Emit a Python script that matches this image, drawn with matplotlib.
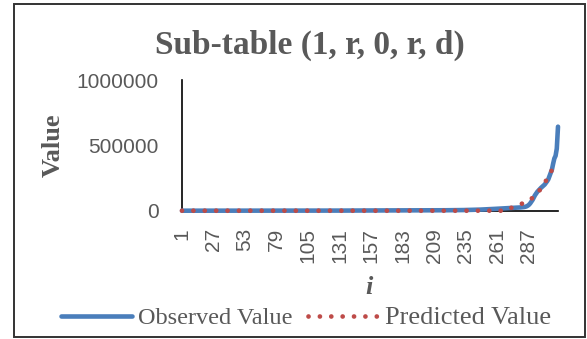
import numpy as np
import matplotlib.pyplot as plt
from matplotlib.patches import Rectangle

# observed values, i = 1..311 (rows of 20)
observed = [
    0, 0, 0, 0, 0, 0, 0, 0, 0, 0, 0, 0, 0, 0, 0, 0, 0, 0, 0, 0,
    0, 0, 0, 0, 0, 0, 0, 0, 0, 0, 0, 0, 0, 0, 0, 0, 0, 0, 0, 0,
    0, 0, 0, 0, 0, 0, 0, 0, 0, 0, 0, 0, 0, 0, 0, 0, 0, 0, 0, 0,
    50, 50, 50, 50, 50, 50, 50, 50, 50, 50, 100, 100, 100, 100, 100, 100, 100, 100, 100, 100,
    150, 150, 150, 150, 150, 200, 200, 200, 200, 200, 250, 250, 250, 250, 250, 300, 300, 300, 300, 300,
    350, 350, 350, 400, 400, 400, 450, 450, 450, 500, 500, 500, 550, 550, 550, 600, 600, 600, 650, 650,
    700, 700, 700, 750, 750, 750, 800, 800, 800, 850, 850, 850, 900, 900, 900, 950, 950, 950, 1000, 1000,
    1050, 1050, 1100, 1100, 1150, 1150, 1200, 1200, 1250, 1250, 1300, 1300, 1350, 1350, 1400, 1400, 1450, 1450, 1500, 1500,
    1550, 1600, 1650, 1700, 1750, 1800, 1850, 1900, 1950, 2000, 2050, 2100, 2150, 2200, 2250, 2300, 2350, 2400, 2450, 2500,
    2500, 2500, 2550, 2550, 2600, 2600, 2650, 2650, 2700, 2700, 2750, 2750, 2800, 2800, 2850, 2850, 2900, 2900, 2950, 2950,
    3000, 3000, 3050, 3050, 3100, 3100, 3150, 3150, 3200, 3200, 3250, 3250, 3300, 3300, 3350, 3350, 3400, 3400, 3450, 3450,
    3500, 3600, 3700, 3800, 3900, 4000, 4100, 4200, 4300, 4400, 4500, 4700, 4900, 5100, 5300, 5500, 5700, 5900, 6100, 6300,
    6500, 6800, 7100, 7400, 7700, 8000, 8400, 8800, 9200, 9600, 10000, 10500, 11000, 11500, 12000, 12500, 13000, 13500, 14000, 14500,
    15000, 15500, 16000, 16500, 17000, 17500, 18000, 18500, 19000, 19500, 20000, 20500, 21000, 21500, 22000, 22500, 23000, 23500, 24000, 25000,
    26000, 27000, 28000, 30000, 33000, 38000, 45000, 55000, 68000, 82000, 100000, 118000, 132000, 145000, 155000, 165000, 175000, 183000, 190000, 200000,
    212000, 225000, 240000, 265000, 290000, 315000, 360000, 400000, 420000, 475000, 643000,
]

# predicted values, i = 1..311 (rows of 20)
predicted = [
    0, 0, 0, 0, 0, 0, 0, 0, 0, 0, 0, 0, 0, 0, 0, 0, 0, 0, 0, 0,
    0, 0, 0, 0, 0, 0, 0, 0, 0, 0, 0, 0, 0, 0, 0, 0, 0, 0, 0, 0,
    0, 0, 0, 0, 0, 0, 0, 0, 0, 0, 0, 0, 0, 0, 0, 0, 0, 0, 0, 0,
    0, 0, 0, 0, 0, 0, 0, 0, 0, 0, 0, 0, 0, 0, 0, 0, 0, 0, 0, 0,
    0, 0, 0, 0, 0, 0, 0, 0, 0, 0, 0, 0, 0, 0, 0, 0, 0, 0, 0, 0,
    0, 0, 0, 0, 0, 0, 0, 0, 0, 0, 0, 0, 0, 0, 0, 0, 0, 0, 0, 0,
    0, 0, 0, 0, 0, 0, 0, 0, 0, 0, 0, 0, 0, 0, 0, 0, 0, 0, 0, 0,
    0, 0, 0, 0, 0, 0, 0, 0, 0, 0, 0, 0, 0, 0, 0, 0, 0, 0, 0, 0,
    0, 0, 0, 0, 0, 0, 0, 0, 0, 0, 0, 0, 0, 0, 0, 0, 0, 0, 0, 0,
    0, 0, 0, 0, 0, 0, 0, 0, 0, 0, 0, 0, 0, 0, 0, 0, 0, 0, 0, 0,
    0, 0, 0, 0, 0, 0, 0, 0, 0, 0, 0, 0, 0, 0, 0, 0, 0, 0, 0, 0,
    0, 0, 0, 0, 0, 0, 0, 0, 0, 0, 0, 0, 0, 0, 0, 0, 0, 0, 0, 0,
    0, 0, 0, 0, 0, 0, 0, 0, 0, 0, 0, 0, 0, 0, 0, 0, 0, 0, 0, 0,
    0, 0, 0, 0, 0, 0, 0, 0, 5000, 10000, 15000, 20000, 24000, 28000, 33000, 38000, 41000, 44000, 47000, 50000,
    53000, 56000, 59000, 63000, 68000, 74000, 80000, 86000, 92000, 98000, 104000, 110000, 122000, 134000, 146000, 158000, 165000, 182000, 198000, 212000,
    228000, 244000, 260000, 278000, 296000, 310000, 324000, 336000, 346000, 354000, 360000,
]

tick_labels = ["1", "27", "53", "79", "105", "131", "157", "183", "209", "235", "261", "287"]
y_ticks = [0, 500000, 1000000]

gray = "#595959"
blue = "#4A7EBB"
red = "#BE4B48"

fig = plt.figure(figsize=(5.87, 3.39), dpi=100)
ax = fig.add_axes([182 / 587, 1 - 210.7 / 339, (558 - 182) / 587, (210.7 - 80) / 339])

x = np.arange(1, len(observed) + 1)
ax.plot(x, observed, color=blue, lw=3.3, solid_capstyle="round", zorder=3, clip_on=False,
        label="Observed Value")
ax.plot(x, predicted, color=red, lw=3.4, linestyle=(0, (0.01, 2.4)), dash_capstyle="round",
        zorder=4, clip_on=False, label="Predicted Value")

ax.set_xlim(1, len(observed))
ax.set_ylim(0, 1000000)
ax.set_xticks([int(t) for t in tick_labels])
ax.set_xticklabels(tick_labels, rotation=90, va="top", ha="center",
                   fontsize=15, color=gray, family="Liberation Sans")
ax.set_yticks(y_ticks)
ax.set_yticklabels([str(v) for v in y_ticks], fontsize=15, color=gray, family="Liberation Sans")
ax.tick_params(axis="x", length=0, pad=12.5)
ax.tick_params(axis="y", length=0, pad=17)
for s in ["top", "right"]:
    ax.spines[s].set_visible(False)
for s in ["left", "bottom"]:
    ax.spines[s].set_color("black")
    ax.spines[s].set_linewidth(1.2)

fig.text(310 / 587, 1 - 45 / 339, "Sub-table (1, r, 0, r, d)", ha="center", va="center",
         fontsize=24, fontweight="bold", family="Liberation Serif", color=gray)
fig.text(53 / 587, 1 - 145 / 339, "Value", rotation=90, ha="center", va="center",
         fontsize=19, fontweight="bold", family="Liberation Serif", color=gray)
fig.text(369 / 587, 1 - 288 / 339, "i", ha="center", va="center",
         fontsize=19, fontweight="bold", style="italic", family="Liberation Serif", color=gray)

leg = fig.legend(loc="center", bbox_to_anchor=(306 / 587, 1 - 318 / 339), ncol=2, frameon=False,
                 prop={"family": "Liberation Serif", "size": 17.5}, handlelength=2.92,
                 handletextpad=0.27, columnspacing=0.62, borderaxespad=0, borderpad=0)
for t in leg.get_texts():
    t.set_color(gray)
# the second entry's text is drawn a little wider in the original
leg.get_texts()[1].set_fontsize(19)

fig.patches.append(Rectangle((14 / 587, 2 / 339), 571 / 587, 333 / 339, transform=fig.transFigure,
                             fill=False, edgecolor="#333333", lw=1.4))

fig.savefig("out.png", dpi=100)
